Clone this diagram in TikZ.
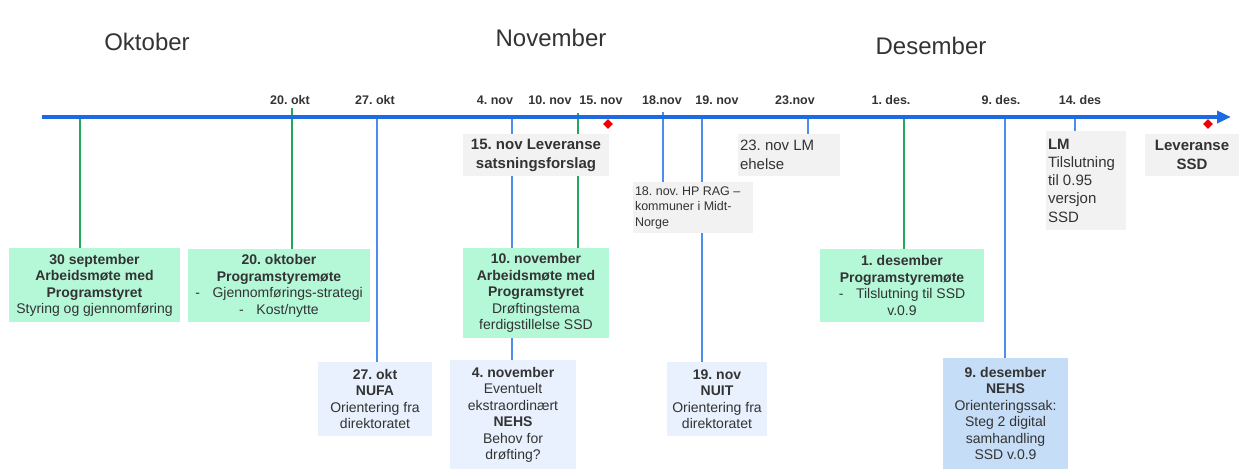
\documentclass[tikz,border=0pt]{standalone}
\usepackage{fontspec}
\setmainfont{Liberation Sans}
\usepackage{xcolor}
\usepackage{tikz}
\usetikzlibrary{positioning}
\usetikzlibrary{arrows.meta,shapes}
\usetikzlibrary{backgrounds}
\definecolor{tlblue}{HTML}{1C6BE3}
\definecolor{stemblue}{HTML}{4C8EEA}
\definecolor{stemgreen}{HTML}{22A85A}
\definecolor{mintfill}{HTML}{B4F8D8}
\definecolor{paleblue}{HTML}{E8F1FD}
\definecolor{midblue}{HTML}{C6DDF8}
\definecolor{greyfill}{HTML}{F2F2F2}
\definecolor{txt}{HTML}{333333}
\definecolor{markred}{HTML}{F00000}
\tikzstyle{box}=[rectangle,inner sep=2pt,align=center,text=txt,anchor=north,font=\fontsize{14}{16.5}\selectfont]
\tikzstyle{greenbox}=[box,fill=mintfill]
\tikzstyle{bluebox}=[box,fill=paleblue]
\tikzstyle{darkbluebox}=[box,fill=midblue]
\tikzstyle{greybox}=[box,fill=greyfill]
\tikzstyle{bigtext}=[font=\fontsize{15}{19}\selectfont]
\tikzstyle{datelabel}=[text=txt,font=\bfseries\fontsize{12.5}{15}\selectfont]
\tikzstyle{month}=[text=txt,font=\fontsize{24}{28}\selectfont]
\tikzstyle{timeline}=[draw,tlblue,line width=3.5pt,-{Triangle[length=14pt,width=12pt]}]
\tikzstyle{bluestem}=[draw,stemblue,line width=1.2pt]
\tikzstyle{greenstem}=[draw,stemgreen,line width=1.2pt]
\tikzset{milestone/.style={diamond,fill=markred,minimum size=10pt,inner sep=0pt}}

\begin{document}
\frenchspacing
\begin{tikzpicture}[x=1pt,y=-1pt]

  \useasboundingbox (0,0) rectangle (1239,469);

  % months
  \node[month] (okt) at (147,42) {Oktober};
  \node[month] (nov) at (551,38) {November};
  \node[month] (des) at (931,46) {Desember};

  % time axis
  \coordinate (tlstart) at (42,117);
  \coordinate (tlend) at (1231,117);
  \path[timeline] (tlstart) -- (tlend);

  \foreach \x/\name/\label in {290/l20okt/20. okt, 375/l27okt/27. okt, 495/l4nov/4. nov,
        550/l10nov/10. nov, 601/l15nov/15. nov, 662/l18nov/18.nov, 717/l19nov/19. nov,
        795/l23nov/23.nov, 891/l1des/1. des., 1001/l9des/9. des., 1080/l14des/14. des}
     \node[datelabel] (\name) at (\x,100) {\label};

  \node[milestone] (m15nov) at (608,124) {};
  \node[milestone] (mssd) at (1208,124) {};

  % boxes
  \node[greenbox, minimum width=171pt, minimum height=74pt] (sep30) at (94.5,248)
     {\textbf{30 september}\\ \textbf{Arbeidsmøte med}\\ \textbf{Programstyret}\\ Styring og gjennomføring};
  \node[greenbox, minimum width=182pt, minimum height=73pt] (okt20) at (279,249)
     {\textbf{20. oktober}\\ \textbf{Programstyremøte}\\ -\hspace{0.9em}Gjennomførings-strategi\\ -\hspace{0.9em}Kost/nytte};
  \node[bluebox, minimum width=114pt, minimum height=74pt] (okt27) at (375,362)
     {\textbf{27. okt}\\ \textbf{NUFA}\\ Orientering fra\\ direktoratet};
  \node[greybox, bigtext, minimum width=146pt, minimum height=42pt] (lev15) at (536,134)
     {\textbf{15. nov Leveranse}\\ \textbf{satsningsforslag}};
  \node[greenbox, minimum width=146pt, minimum height=90pt] (nov10) at (536,248)
     {\textbf{10. november}\\ \textbf{Arbeidsmøte med}\\ \textbf{Programstyret}\\ Drøftingstema\\ ferdigstillelse SSD};
  \node[bluebox, minimum width=126pt, minimum height=109pt] (nov4) at (513,360)
     {\textbf{4. november}\\ Eventuelt\\ ekstraordinært\\ \textbf{NEHS}\\ Behov for\\ drøfting?};
  \node[greybox, align=flush left, text width=116pt, minimum height=51pt, font=\fontsize{12.5}{15.5}\selectfont] (nov18) at (693,182)
     {18. nov. HP RAG –\\ kommuner i Midt-\\ Norge};
  \node[bluebox, minimum width=100pt, minimum height=74pt] (nov19) at (717,362)
     {\textbf{19. nov}\\ \textbf{NUIT}\\ Orientering fra\\ direktoratet};
  \node[greybox, bigtext, align=flush left, text width=98pt, minimum height=42pt] (nov23) at (789,134)
     {23. nov LM\\ ehelse};
  \node[greenbox, minimum width=164pt, minimum height=73pt] (des1) at (902,249)
     {\textbf{1. desember}\\ \textbf{Programstyremøte}\\ -\hspace{0.9em}Tilslutning til SSD\\ v.0.9};
  \node[darkbluebox, minimum width=125pt, minimum height=111pt] (des9) at (1005.5,358)
     {\textbf{9. desember}\\ \textbf{NEHS}\\ Orienteringssak:\\ Steg 2 digital\\ samhandling\\ SSD v.0.9};
  \node[greybox, align=flush left, text width=76pt, minimum height=99pt, font=\fontsize{15}{18.2}\selectfont] (lm) at (1086,131)
     {\textbf{LM}\\ Tilslutning\\ til 0.95\\ versjon\\ SSD};
  \node[greybox, bigtext, minimum width=94pt, minimum height=42pt] (levssd) at (1192,134)
     {\textbf{Leveranse}\\ \textbf{SSD}};

  % stems, behind the boxes
  \begin{pgfonlayer}{background}
  \foreach \x/\top/\target/\kind in {80/117/sep30/greenstem, 292/108/okt20/greenstem,
        377/117/okt27/bluestem, 512/117/nov4/bluestem, 578/113/nov10/greenstem,
        663/112/nov18/bluestem, 702/117/nov19/bluestem, 808/117/nov23/bluestem,
        904/117/des1/greenstem, 1005/117/des9/bluestem, 1075/117/lm/bluestem}
  {
     \coordinate (top\target) at (\x,\top);
     \path[\kind] (top\target) -- (top\target |- \target.north);
  }
  \end{pgfonlayer}

\end{tikzpicture}
\end{document}
